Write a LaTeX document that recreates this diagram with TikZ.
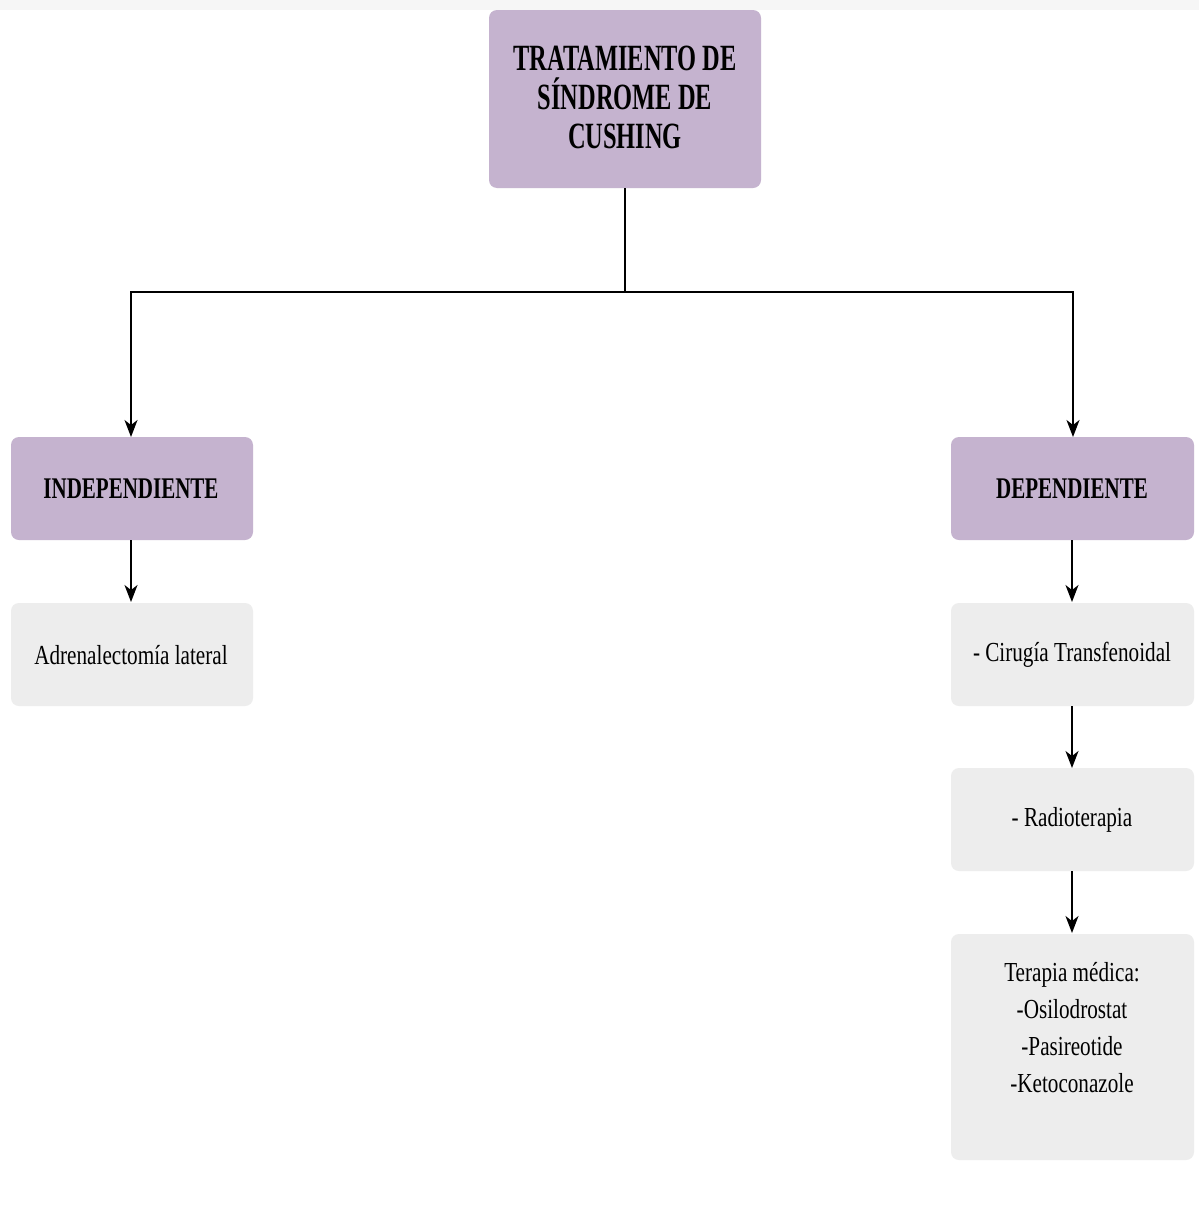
\documentclass[tikz,border=0pt]{standalone}
\usepackage{fontspec}
\usetikzlibrary{arrows.meta}
\newfontfamily\txtfont[FakeStretch=0.77]{Liberation Serif}
\newfontfamily\headfont[FakeStretch=0.66]{Liberation Serif}
\newfontfamily\subfont[FakeStretch=0.70]{Liberation Serif}
\definecolor{headfill}{RGB}{197,179,207}
\definecolor{itemfill}{RGB}{237,237,237}
\definecolor{topband}{RGB}{246,246,246}
\tikzset{
  x=1pt, y=-1pt,
  headbox/.style={fill=headfill, rounded corners=8pt, draw=none},
  itembox/.style={fill=itemfill, rounded corners=8pt, draw=none},
  link/.style={line width=1.5pt, -{Stealth[length=17pt,width=13pt,inset=5pt]}},
  plain/.style={line width=1.5pt},
  bodytext/.style={font=\txtfont\fontsize{27.5}{37}\selectfont},
  subtext/.style={font=\subfont\bfseries\fontsize{30}{32}\selectfont},
}
\begin{document}
\begin{tikzpicture}
\useasboundingbox (0,0) rectangle (1199,1210);
\fill[white] (0,0) rectangle (1199,1210);
\fill[topband] (0,0) rectangle (1199,10);

% root
\fill[headbox] (489,10) rectangle (761,188);
\node[font=\headfont\bfseries\fontsize{37}{39}\selectfont, align=center] (root) at (625,97) {TRATAMIENTO DE\\SÍNDROME DE\\CUSHING};
\coordinate (rootb) at (625,188);

% first level
\fill[headbox] (11,437) rectangle (253,540);
\node[subtext] (ind) at (131,489) {INDEPENDIENTE};
\fill[headbox] (951,437) rectangle (1194,540);
\node[subtext] (dep) at (1072,489) {DEPENDIENTE};

% items
\fill[itembox] (11,603) rectangle (253,706);
\node[bodytext] (adr) at (131,655) {Adrenalectomía lateral};
\fill[itembox] (951,603) rectangle (1194,706);
\node[bodytext] (cir) at (1072,655) {- Cirugía Transfenoidal};
\fill[itembox] (951,768) rectangle (1194,871);
\node[bodytext] (rad) at (1072,820) {- Radioterapia};
\fill[itembox] (951,934) rectangle (1194,1160);
\node[bodytext, align=center] (ter) at (1072,1028) {Terapia médica:\\-Osilodrostat\\-Pasireotide\\-Ketoconazole};

% connectors
\coordinate (indt) at (131,437);
\coordinate (dept) at (1073,437);
\coordinate (indb) at (131,540);
\coordinate (adrt) at (131,602);
\coordinate (depb) at (1072,540);
\coordinate (cirt) at (1072,602);
\coordinate (cirb) at (1072,706);
\coordinate (radt) at (1072,768);
\coordinate (radb) at (1072,871);
\coordinate (tert) at (1072,933);
\coordinate (split) at (625,292);
\draw[plain] (rootb) -- (split);
\draw[link] (split) -| (indt);
\draw[link] (split) -| (dept);
\draw[link] (indb) -- (adrt);
\draw[link] (depb) -- (cirt);
\draw[link] (cirb) -- (radt);
\draw[link] (radb) -- (tert);
\end{tikzpicture}
\end{document}
